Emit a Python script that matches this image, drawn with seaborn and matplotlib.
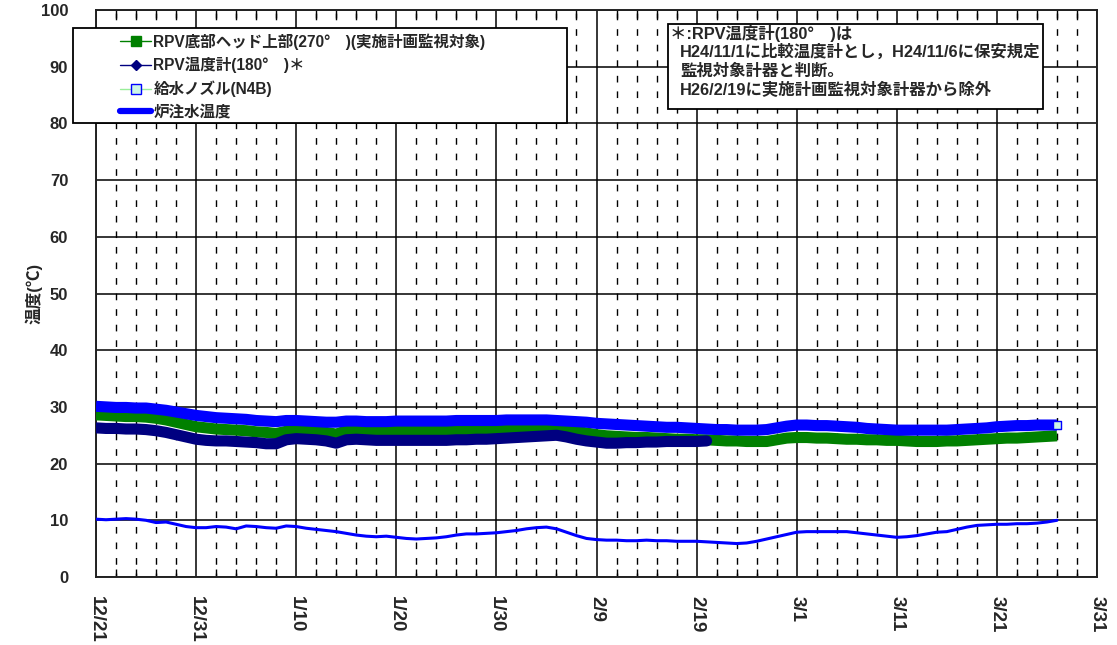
import matplotlib
matplotlib.use("Agg")
import matplotlib.pyplot as plt
from matplotlib.lines import Line2D
from matplotlib.patches import Rectangle
import numpy as np
import pandas as pd
import seaborn as sns

# ---------------- data ----------------
start_date = "2013-12-21"
end_date = "2014-03-31"
tick_labels = ["12/21", "12/31", "1/10", "1/20", "1/30", "2/9", "2/19", "3/1", "3/11", "3/21", "3/31"]

series_names = ["RPV底部ヘッド上部(270°　)(実施計画監視対象)", "RPV温度計(180°　)＊", "給水ノズル(N4B)", "炉注水温度"]

rpv_bottom_270 = [
    28.6, 28.5, 28.4, 28.3, 28.3, 28.2, 28.0, 27.7, 27.3, 26.9,
    26.5, 26.3, 26.1, 26.0, 25.9, 25.8, 25.6, 25.5, 25.3, 25.7,
    25.9, 25.8, 25.7, 25.5, 25.2, 25.8, 25.9, 25.9, 25.8, 25.8,
    25.8, 25.8, 25.8, 25.8, 25.8, 25.8, 25.8, 25.8, 25.9, 25.9,
    25.9, 25.9, 25.9, 26.0, 26.0, 26.0, 26.0, 25.9, 25.7, 25.4,
    25.1, 24.9, 24.8, 24.7, 24.6, 24.6, 24.5, 24.4, 24.3, 24.3,
    24.2, 24.2, 24.1, 24.0, 24.0, 23.9, 23.9, 23.9, 24.2, 24.5,
    24.6, 24.6, 24.5, 24.5, 24.4, 24.3, 24.3, 24.2, 24.2, 24.1,
    24.1, 24.0, 23.9, 23.9, 23.9, 24.0, 24.0, 24.1, 24.2, 24.3,
    24.4, 24.5, 24.5, 24.6, 24.7, 24.8, 24.9,
]

rpv_thermo_180 = [
    26.3, 26.2, 26.2, 26.1, 26.1, 26.0, 25.8, 25.5, 25.1, 24.7,
    24.3, 24.1, 24.0, 24.0, 23.9, 23.8, 23.7, 23.5, 23.5, 24.2,
    24.4, 24.3, 24.2, 24.0, 23.6, 24.2, 24.3, 24.2, 24.1, 24.1,
    24.1, 24.1, 24.1, 24.1, 24.1, 24.1, 24.2, 24.2, 24.3, 24.3,
    24.4, 24.5, 24.6, 24.7, 24.8, 24.9, 25.0, 24.7, 24.3, 24.0,
    23.8, 23.6, 23.6, 23.7, 23.7, 23.8, 23.8, 23.9, 23.9, 23.9,
    23.9, 24.0,
]

feedwater_nozzle = [
    30.1, 30.0, 29.9, 29.9, 29.8, 29.8, 29.6, 29.4, 29.1, 28.8,
    28.5, 28.3, 28.1, 28.0, 27.9, 27.8, 27.6, 27.5, 27.4, 27.6,
    27.6, 27.5, 27.4, 27.3, 27.3, 27.5, 27.5, 27.4, 27.4, 27.4,
    27.5, 27.5, 27.5, 27.5, 27.5, 27.5, 27.6, 27.6, 27.6, 27.6,
    27.6, 27.7, 27.7, 27.7, 27.7, 27.7, 27.6, 27.5, 27.4, 27.3,
    27.1, 27.0, 26.9, 26.8, 26.7, 26.6, 26.5, 26.4, 26.4, 26.3,
    26.2, 26.1, 26.0, 26.0, 25.9, 25.9, 25.9, 26.0, 26.3, 26.6,
    26.8, 26.8, 26.7, 26.7, 26.6, 26.5, 26.4, 26.2, 26.1, 26.0,
    25.9, 25.9, 25.9, 25.9, 25.9, 25.9, 26.0, 26.1, 26.2, 26.3,
    26.5, 26.6, 26.7, 26.7, 26.8, 26.8, 26.8,
]

injection_water = [
    10.2, 10.1, 10.2, 10.3, 10.2, 10.0, 9.6, 9.7, 9.3, 8.9,
    8.7, 8.7, 8.9, 8.8, 8.5, 9.0, 8.9, 8.7, 8.6, 9.0,
    8.9, 8.6, 8.4, 8.2, 8.0, 7.7, 7.4, 7.2, 7.1, 7.2,
    7.0, 6.8, 6.7, 6.8, 6.9, 7.1, 7.4, 7.6, 7.6, 7.7,
    7.8, 8.0, 8.2, 8.5, 8.7, 8.8, 8.5, 7.9, 7.3, 6.8,
    6.6, 6.5, 6.5, 6.4, 6.4, 6.5, 6.4, 6.4, 6.3, 6.3,
    6.3, 6.2, 6.1, 6.0, 5.9, 6.0, 6.3, 6.7, 7.1, 7.5,
    7.9, 8.0, 8.0, 8.0, 8.0, 8.0, 7.8, 7.6, 7.4, 7.2,
    7.0, 7.1, 7.3, 7.6, 7.9, 8.0, 8.4, 8.8, 9.1, 9.2,
    9.3, 9.3, 9.4, 9.4, 9.5, 9.7, 10.0,
]

note_lines = [
    "＊:RPV温度計(180°　)は",
    "H24/11/1に比較温度計とし，H24/11/6に保安規定",
    "監視対象計器と判断。",
    "H26/2/19に実施計画監視対象計器から除外",
]

# ---------------- build frames ----------------
dates = pd.date_range(start_date, periods=len(rpv_bottom_270), freq="D")
df = pd.DataFrame({
    "date": dates,
    "rpv270": rpv_bottom_270,
    "feed": feedwater_nozzle,
    "inj": injection_water,
})
df180 = pd.DataFrame({"date": dates[:len(rpv_thermo_180)], "rpv180": rpv_thermo_180})

# ---------------- style ----------------
sns.set_theme(style="white")
FAM = ["Liberation Sans", "Noto Sans CJK JP", "DejaVu Sans"]
plt.rcParams["font.family"] = FAM
plt.rcParams["font.weight"] = "bold"
plt.rcParams["axes.unicode_minus"] = False

GREEN = "#008000"
NAVY = "#000080"
BLUE = "#0000ff"
CYAN = "#ccf5e6"

fig = plt.figure(figsize=(11.17, 6.45), dpi=100)
ax = fig.add_axes([96 / 1117, 1 - 577 / 645, 1001 / 1117, 567 / 645])

sns.lineplot(data=df, x="date", y="rpv270", ax=ax, color=GREEN, lw=8, zorder=3,
             solid_capstyle="butt", solid_joinstyle="round")
sns.lineplot(data=df180, x="date", y="rpv180", ax=ax, color=NAVY, lw=8, zorder=3.1,
             solid_capstyle="round", solid_joinstyle="round")
sns.lineplot(data=df, x="date", y="feed", ax=ax, color=BLUE, lw=8, zorder=3.2,
             solid_capstyle="butt", solid_joinstyle="round")
sns.scatterplot(data=df.iloc[-1:], x="date", y="feed", ax=ax, marker="s", s=30,
                color=CYAN, edgecolor=BLUE, linewidth=1, zorder=3.3)
sns.lineplot(data=df, x="date", y="inj", ax=ax, color=BLUE, lw=2.2, zorder=3.4)

# axes limits / ticks
ax.set_xlim(pd.Timestamp(start_date), pd.Timestamp(end_date))
ax.set_ylim(0, 100)
major_dates = pd.date_range(start_date, end_date, freq="10D")
ax.set_xticks(major_dates)
ax.set_xticklabels(tick_labels, rotation=270, fontsize=13.5, fontweight="bold")
minor_dates = pd.date_range(start_date, end_date, freq="2D")
ax.set_xticks(minor_dates, minor=True)
ax.set_yticks(np.arange(0, 101, 10))
ax.set_yticklabels([str(v) for v in range(0, 101, 10)], fontsize=12, fontweight="bold")

ax.tick_params(axis="x", which="major", length=0, pad=14)
ax.tick_params(axis="x", which="minor", direction="in", length=6, width=1,
               top=True, bottom=True, color="black")
ax.tick_params(axis="y", length=0, pad=20)

ax.grid(True, which="major", axis="both", color="black", lw=1.1, zorder=1)
ax.grid(True, which="minor", axis="x", color="black", lw=1.0, linestyle=(2, (4.8, 6.4)), zorder=1)
ax.set_axisbelow(True)
for sp in ax.spines.values():
    sp.set_color("#222222")
    sp.set_linewidth(1.4)

ax.set_xlabel("")
ax.set_ylabel("温度(℃)", fontsize=12, fontweight="bold", labelpad=-1)

# ---------------- legend ----------------
def ax_x(px):
    return (px - 96) / 1001

def ax_y(py):
    return (577 - py) / 567

leg_rect = Rectangle((ax_x(73), ax_y(123)), ax_x(567) - ax_x(73), ax_y(28) - ax_y(123),
                     transform=ax.transAxes, facecolor="white", edgecolor="black",
                     lw=1.3, zorder=5, clip_on=False)
ax.add_patch(leg_rect)

handles = [
    Line2D([], [], color=GREEN, lw=1, marker="s", ms=7, mfc=GREEN, mec=GREEN),
    Line2D([], [], color=NAVY, lw=1, marker="D", ms=5, mfc=NAVY, mec=NAVY),
    Line2D([], [], color="#99ee99", lw=1, marker="s", ms=7, mfc=CYAN, mec=BLUE),
    Line2D([], [], color=BLUE, lw=4.5),
]
leg = ax.legend(handles, series_names, loc="upper left",
                bbox_to_anchor=(ax_x(120), ax_y(33)), frameon=False,
                borderaxespad=0, borderpad=0, handlelength=2.0, handletextpad=0.15,
                labelspacing=0.48, prop={"size": 11.2, "weight": "bold", "family": FAM})
leg.set_zorder(6)

# ---------------- note box ----------------
note_rect = Rectangle((ax_x(668), ax_y(109)), ax_x(1043) - ax_x(668), ax_y(24) - ax_y(109),
                      transform=ax.transAxes, facecolor="white", edgecolor="black",
                      lw=1.3, zorder=5, clip_on=False)
ax.add_patch(note_rect)
note_y = [33, 52, 71, 90]
note_x = [670, 680, 680, 680]
for txt, px, py in zip(note_lines, note_x, note_y):
    ax.text(ax_x(px), ax_y(py), txt, transform=ax.transAxes, ha="left", va="center",
            fontsize=11.8, fontweight="bold", zorder=6, family=FAM)

fig.savefig("out.png", dpi=100)
